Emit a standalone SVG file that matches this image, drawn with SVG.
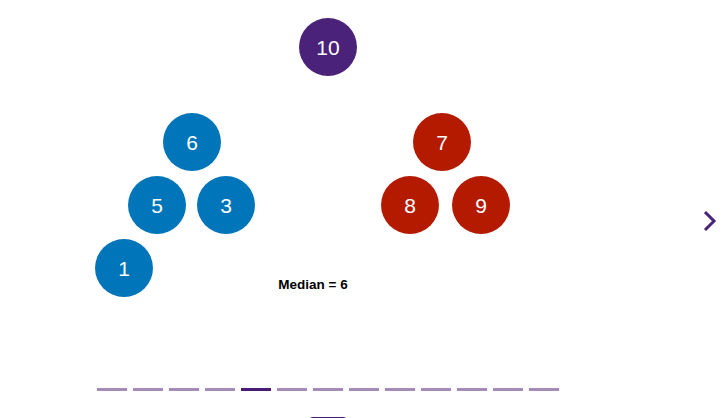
<svg xmlns="http://www.w3.org/2000/svg" width="727" height="418" viewBox="0 0 727 418">
<style>
.lbl{font-family:"Liberation Sans",Arial,sans-serif;font-size:21px;fill:#fff;text-anchor:middle;dominant-baseline:central}
.blue{fill:#0075B9}
.red{fill:#B41A00}
.purple{fill:#4A2279}
.dash{stroke:#A68BB8;stroke-width:3}
.dash.on{stroke:#4A1A74}
</style>
<rect width="727" height="418" fill="#fff"/>
<g id="n10"><circle class="purple" cx="328" cy="47" r="29"/><text class="lbl" x="328" y="47">10</text></g>
<g id="n6"><circle class="blue" cx="192" cy="142" r="29"/><text class="lbl" x="192" y="142">6</text></g>
<g id="n5"><circle class="blue" cx="157" cy="205" r="29"/><text class="lbl" x="157" y="205">5</text></g>
<g id="n3"><circle class="blue" cx="226" cy="205" r="29"/><text class="lbl" x="226" y="205">3</text></g>
<g id="n1"><circle class="blue" cx="124" cy="268" r="29"/><text class="lbl" x="124" y="268">1</text></g>
<g id="n7"><circle class="red" cx="442" cy="142" r="29"/><text class="lbl" x="442" y="142">7</text></g>
<g id="n8"><circle class="red" cx="410" cy="205" r="29"/><text class="lbl" x="410" y="205">8</text></g>
<g id="n9"><circle class="red" cx="481" cy="205" r="29"/><text class="lbl" x="481" y="205">9</text></g>
<text x="313" y="289" font-family="Liberation Sans,Arial,sans-serif" font-size="13.5" font-weight="bold" text-anchor="middle" fill="#000">Median = 6</text>
<g id="connectors"></g>
<path d="M705 212 L714 221 L705 230" fill="none" stroke="#4A2279" stroke-width="3"/>
<g id="pager">
<line class="dash" x1="97" y1="389.5" x2="127" y2="389.5"/>
<line class="dash" x1="133" y1="389.5" x2="163" y2="389.5"/>
<line class="dash" x1="169" y1="389.5" x2="199" y2="389.5"/>
<line class="dash" x1="205" y1="389.5" x2="235" y2="389.5"/>
<line class="dash on" x1="241" y1="389.5" x2="271" y2="389.5"/>
<line class="dash" x1="277" y1="389.5" x2="307" y2="389.5"/>
<line class="dash" x1="313" y1="389.5" x2="343" y2="389.5"/>
<line class="dash" x1="349" y1="389.5" x2="379" y2="389.5"/>
<line class="dash" x1="385" y1="389.5" x2="415" y2="389.5"/>
<line class="dash" x1="421" y1="389.5" x2="451" y2="389.5"/>
<line class="dash" x1="457" y1="389.5" x2="487" y2="389.5"/>
<line class="dash" x1="493" y1="389.5" x2="523" y2="389.5"/>
<line class="dash" x1="529" y1="389.5" x2="559" y2="389.5"/>
</g>
<rect x="308" y="417" width="40" height="12" rx="5" fill="#4A1A74"/>
</svg>
